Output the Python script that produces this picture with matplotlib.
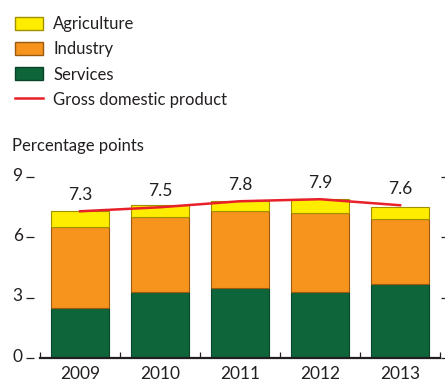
import numpy as np
import matplotlib.pyplot as plt
from matplotlib.patches import Patch
from matplotlib.lines import Line2D
from matplotlib.transforms import ScaledTranslation

plt.rcParams['font.family'] = ['Lato', 'DejaVu Sans']

# Datos: contribuciones al crecimiento del PIB (puntos porcentuales)
years = ['2009', '2010', '2011', '2012', '2013']
services = [2.5, 3.3, 3.5, 3.3, 3.7]
industry = [4.0, 3.7, 3.8, 3.9, 3.2]
agriculture = [0.8, 0.6, 0.5, 0.7, 0.6]
gdp = [7.3, 7.5, 7.8, 7.9, 7.6]

c_agr, c_ind, c_ser, c_gdp = '#FFED00', '#F7941E', '#0E653A', '#E8202A'
e_agr, e_ind, e_ser = '#A09000', '#9A5A10', '#0A4428'
txt = '#231F20'

fig = plt.figure(figsize=(4.45, 3.85), dpi=100)
ax = fig.add_axes([0.09, 0.07, 0.899, 0.47])

x = np.arange(len(years))
w = 0.73
bot2 = np.array(services) + np.array(industry)
ax.bar(x, services, w, color=c_ser, edgecolor=e_ser, linewidth=0.8, zorder=2)
ax.bar(x, industry, w, bottom=services, color=c_ind, edgecolor=e_ind, linewidth=0.8, zorder=2)
ax.bar(x, agriculture, w, bottom=bot2, color=c_agr, edgecolor=e_agr, linewidth=0.8, zorder=2)
ax.plot(x, gdp, color=c_gdp, lw=1.8, zorder=3)

for xi, v in zip(x, gdp):
    ax.text(xi, v + 0.42, f'{v:.1f}', ha='center', va='bottom', fontsize=12.5, color=txt)

ax.set_xlim(-0.5, 4.5)
ax.set_ylim(0, 9)
ax.set_yticks([0, 3, 6, 9])
ax.set_xticks(x)
ax.set_xticklabels(years)
ax.set_xticks(np.arange(-0.5, 5, 1), minor=True)

for s in ['top', 'left', 'right']:
    ax.spines[s].set_visible(False)
ax.spines['left'].set_position(('outward', 4))
ax.spines['right'].set_position(('outward', 1))
ax.spines['bottom'].set_linewidth(1.6)
ax.spines['bottom'].set_color(txt)

ax.tick_params(axis='y', which='major', left=True, right=True, length=5.5, width=0.9,
               color=txt, labelsize=12.5, labelcolor=txt, pad=3)
ax.tick_params(axis='y', which='major', right=True, labelright=False)
ax.tick_params(axis='x', which='major', length=0, labelsize=12.5, labelcolor=txt, pad=6)
ax.tick_params(axis='x', which='minor', direction='in', length=4, width=0.9, color=txt)

# etiquetas del eje y un poco por encima de la marca
for lab in ax.get_yticklabels():
    lab.set_transform(lab.get_transform() + ScaledTranslation(0, 3 / 100, fig.dpi_scale_trans))

fig.text(0.027, 0.6, 'Percentage points', fontsize=12, color=txt, va='bottom')

handles = [Patch(facecolor=c_agr, edgecolor=e_agr, label='Agriculture'),
           Patch(facecolor=c_ind, edgecolor=e_ind, label='Industry'),
           Patch(facecolor=c_ser, edgecolor=e_ser, label='Services'),
           Line2D([0], [0], color=c_gdp, lw=1.8, label='Gross domestic product')]
leg = fig.legend(handles=handles, loc='upper left', bbox_to_anchor=(0.034, 0.958),
                 frameon=False, fontsize=12, handlelength=1.68, handleheight=0.84,
                 handletextpad=0.6, labelspacing=0.55, borderpad=0, borderaxespad=0)
for t in leg.get_texts():
    t.set_color(txt)

plt.savefig('out.png', dpi=100)
